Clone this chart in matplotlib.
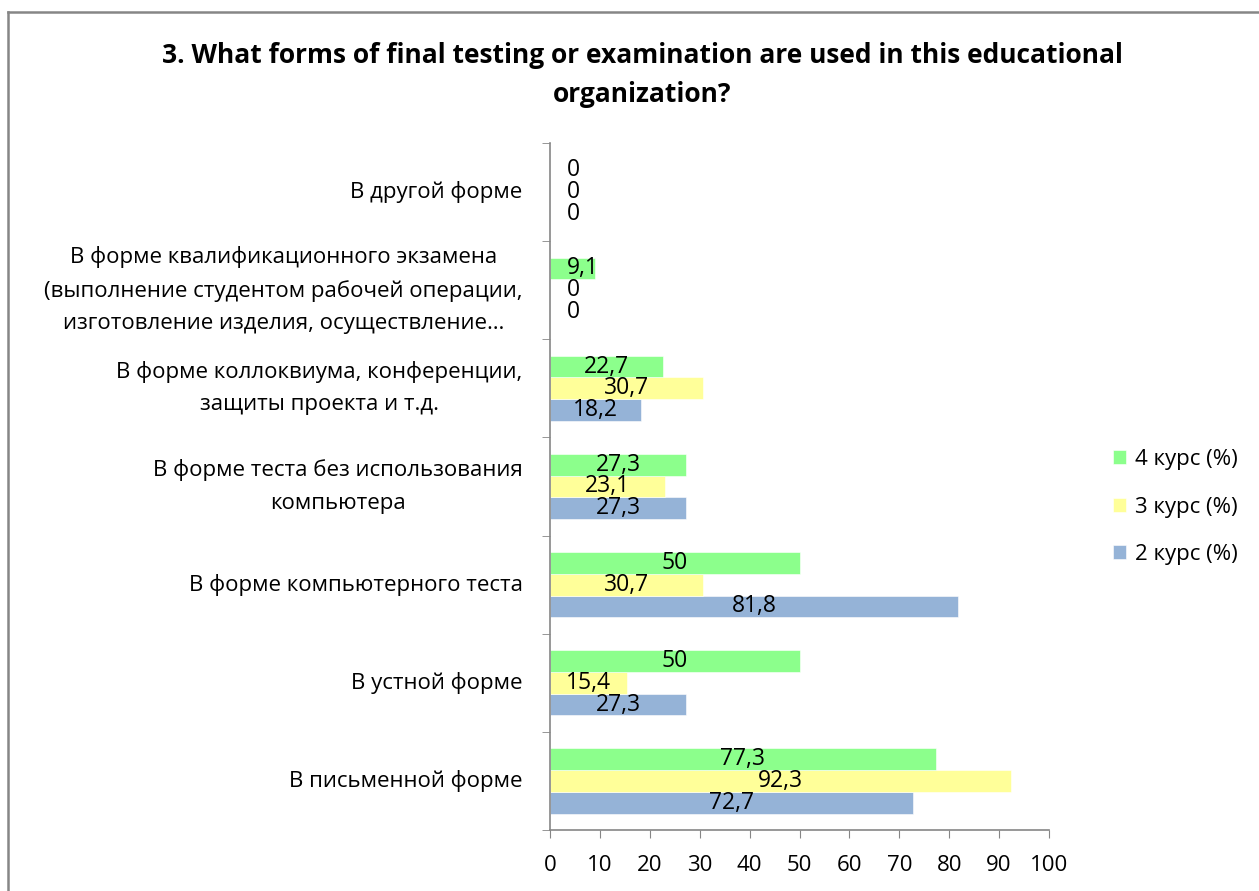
import matplotlib
matplotlib.use('Agg')
import matplotlib.pyplot as plt
from matplotlib.lines import Line2D
import numpy as np

plt.rcParams['font.family'] = ['Open Sans', 'DejaVu Sans']

# Categories, bottom to top as drawn
categories = [
    'В письменной форме',
    'В устной форме',
    'В форме компьютерного теста',
    'В форме теста без использования\nкомпьютера',
    'В форме коллоквиума, конференции,\nзащиты проекта и т.д.',
    'В форме квалификационного экзамена\n(выполнение студентом рабочей операции,\nизготовление изделия, осуществление…',
    'В другой форме',
]
course2 = [72.7, 27.3, 81.8, 27.3, 18.2, 0, 0]
course3 = [92.3, 15.4, 30.7, 23.1, 30.7, 0, 0]
course4 = [77.3, 50, 50, 27.3, 22.7, 9.1, 0]
series_names = ['2 курс (%)', '3 курс (%)', '4 курс (%)']
colors = ['#95B3D7', '#FFFF99', '#8CFF8C']

W, H = 1259, 891
fig = plt.figure(figsize=(W / 100, H / 100), dpi=100)
ax = fig.add_axes([550 / W, 1 - 830 / H, 499 / W, 687 / H])

y = np.arange(len(categories))
h = 0.222
series = [course2, course3, course4]
bars = []
for i, (vals, c, name) in enumerate(zip(series, colors, series_names)):
    b = ax.barh(y + (i - 1) * h, vals, height=h, color=c, label=name,
                edgecolor='white', linewidth=0.4)
    bars.append(b)
    for yy, v in zip(y + (i - 1) * h, vals):
        txt = ('%g' % v).replace('.', ',')
        if v < 10:
            ax.text(3.4, yy, txt, ha='left', va='center', fontsize=16.5)
        else:
            ax.text(v / 2, yy, txt, ha='center', va='center', fontsize=16.5)

ax.set_xlim(0, 100)
ax.set_ylim(-0.5, len(categories) - 0.5)
ax.set_xticks(np.arange(0, 101, 10))
ax.tick_params(axis='x', labelsize=16, length=6, color='#868686', pad=12)
ax.set_yticks(y)
ax.set_yticklabels([])
ax.tick_params(axis='y', which='major', length=0)
ax.set_yticks(np.arange(-0.5, len(categories)), minor=True)
ax.tick_params(axis='y', which='minor', length=6, color='#868686')
for s in ['top', 'right']:
    ax.spines[s].set_visible(False)
for s in ['left', 'bottom']:
    ax.spines[s].set_color('#868686')
    ax.spines[s].set_linewidth(1.2)

for yy, lab in zip(y, categories):
    ax.text(-5.5, yy, lab, ha='right', va='center', multialignment='center',
            fontsize=16, linespacing=1.7, transform=ax.transData, clip_on=False)

handles = bars[::-1]
ax.legend(handles, series_names[::-1], loc='center left',
          bbox_to_anchor=(1093 / W, 1 - 507 / H), bbox_transform=fig.transFigure,
          frameon=False, fontsize=16, handlelength=0.6, handleheight=0.6,
          labelspacing=1.2, handletextpad=0.4)

fig.text(0.5 * (160 + 1125) / W, 1 - 75 / H,
         '3. What forms of final testing or examination are used in this educational\norganization?',
         ha='center', va='center', fontsize=19, fontweight='bold', linespacing=1.55)

# chart border (top and left visible)
fig.add_artist(Line2D([8 / W, 1], [1 - 12 / H, 1 - 12 / H], color='#868686', lw=1.8,
                      transform=fig.transFigure))
fig.add_artist(Line2D([8 / W, 8 / W], [0, 1 - 12 / H], color='#868686', lw=1.8,
                      transform=fig.transFigure))

fig.savefig('out.png', dpi=100)
